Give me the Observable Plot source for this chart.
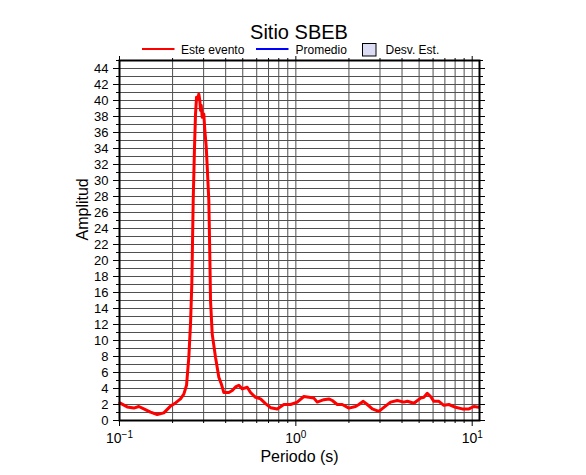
<!DOCTYPE html>
<html>
<head>
<meta charset="utf-8">
<script src="https://cdn.jsdelivr.net/npm/d3@7"></script>
<script src="https://cdn.jsdelivr.net/npm/@observablehq/plot@0.6"></script>
<style>
  body { margin: 0; background: #ffffff; }
  #wrap { width: 586px; position: relative; }
  #head { display: block; position: relative; z-index: 2; overflow: visible; }
  #chart svg { display: block; }
</style>
</head>
<body>
<div id="wrap">
  <svg id="head" width="586" height="50" font-family="Liberation Sans, Arial, Helvetica, sans-serif">
    <text id="title" x="299" y="38.5" text-anchor="middle" font-size="20"></text>
    <g id="legend"></g>
  </svg>
  <div id="chart"></div>
</div>
<script>
// ---- data ----
const titleText = "Sitio SBEB";
const xLabel = "Periodo (s)";
const yLabel = "Amplitud";
const legendLabels = ["Este evento", "Promedio", "Desv. Est."];
const legendColors = ["#ff0000", "#0000ff", "#dcdcf4"];

const periods = [0.1004, 0.1106, 0.1205, 0.1287, 0.1374, 0.1499, 0.1636, 0.1784, 0.1947, 0.2078,
  0.2218, 0.2316, 0.2399, 0.2472, 0.2528, 0.2571, 0.2618, 0.2663, 0.2698, 0.2734,
  0.2780, 0.2817, 0.2854, 0.2880, 0.2907, 0.2945, 0.3007, 0.3047, 0.3103, 0.3144,
  0.3210, 0.3250, 0.3282, 0.3356, 0.3503, 0.3658, 0.3775, 0.3905, 0.4169, 0.4358,
  0.4550, 0.4750, 0.4966, 0.5301, 0.5534, 0.5907, 0.6306, 0.6731, 0.7186, 0.7843,
  0.8549, 0.9331, 1.0184, 1.1100, 1.1850, 1.2650, 1.3224, 1.4412, 1.5390, 1.6089,
  1.7171, 1.8335, 1.9983, 2.1806, 2.2766, 2.4118, 2.5410, 2.7128, 2.9563, 3.1558,
  3.4442, 3.7597, 4.0999, 4.2857, 4.6702, 5.0969, 5.3211, 5.5628, 5.8076, 6.0638,
  6.4732, 6.9091, 7.3757, 8.0498, 8.7860, 9.5786, 10.222, 10.915];
const amps = [2.2, 1.7, 1.55, 1.75, 1.45, 1.05, 0.75, 0.95, 1.8, 2.2,
  2.7, 3.3, 4.4, 7.9, 12.1, 17.1, 27.5, 34.2, 38.3, 40.4,
  40.2, 40.8, 40.0, 38.75, 39.4, 37.9, 38.3, 36.25, 34.2, 31.7,
  27.5, 21.0, 15.0, 10.8, 7.9, 5.4, 4.6, 3.5, 3.5, 3.75,
  4.2, 4.4, 3.95, 4.15, 3.5, 2.9, 2.7, 2.1, 1.6, 1.45,
  2.0, 2.0, 2.3, 3.0, 2.9, 2.8, 2.3, 2.6, 2.7, 2.5,
  2.0, 2.0, 1.55, 1.75, 2.0, 2.4, 2.0, 1.45, 1.15, 1.65,
  2.3, 2.5, 2.3, 2.4, 2.15, 2.8, 2.9, 3.4, 3.0, 2.4,
  2.4, 1.9, 2.0, 1.65, 1.45, 1.45, 1.75, 1.65];

const yMajorTicks = [0, 2, 4, 6, 8, 10, 12, 14, 16, 18, 20, 22, 24, 26, 28, 30, 32, 34, 36, 38, 40, 42, 44];
const yMinorTicks = [1, 3, 5, 7, 9, 11, 13, 15, 17, 19, 21, 23, 25, 27, 29, 31, 33, 35, 37, 39, 41, 43, 45];
const yGridTicks = [1, 2, 3, 4, 5, 6, 7, 8, 9, 10, 11, 12, 13, 14, 15, 16, 17, 18, 19, 20, 21, 22,
  23, 24, 25, 26, 27, 28, 29, 30, 31, 32, 33, 34, 35, 36, 37, 38, 39, 40, 41, 42, 43, 44];
const xMajorTicks = [0.1, 1, 10];
const xTickBase = ["10", "10", "10"];
const xTickExp = ["\u22121", "0", "1"];
const xMinorTicks = [0.2, 0.3, 0.4, 0.5, 0.6, 0.7, 0.8, 0.9, 2, 3, 4, 5, 6, 7, 8, 9];
const xGridTicks = [0.2, 0.3, 0.4, 0.5, 0.6, 0.7, 0.8, 0.9, 1, 2, 3, 4, 5, 6, 7, 8, 9, 10];

// ---- header (title + legend) ----
const head = d3.select("#head");
head.select("#title").text(titleText);
const lg = head.select("#legend").attr("font-size", 12).attr("fill", "black");
lg.append("line").attr("x1", 142).attr("x2", 174.5).attr("y1", 49).attr("y2", 49)
  .attr("stroke", legendColors[0]).attr("stroke-width", 2);
lg.append("text").attr("x", 181).attr("y", 54).text(legendLabels[0]);
lg.append("line").attr("x1", 256).attr("x2", 288.5).attr("y1", 49).attr("y2", 49)
  .attr("stroke", legendColors[1]).attr("stroke-width", 2);
lg.append("text").attr("x", 295.5).attr("y", 54).text(legendLabels[1]);
lg.append("rect").attr("x", 362.5).attr("y", 43.5).attr("width", 13.5).attr("height", 12.5)
  .attr("fill", legendColors[2]).attr("stroke", "black").attr("stroke-width", 1);
lg.append("text").attr("x", 385.5).attr("y", 54).text(legendLabels[2]);

// ---- chart ----
const data = periods.map((p, i) => ({period: p, amp: amps[i]}));
const font = "Liberation Sans, Arial, Helvetica, sans-serif";
const gridColor = "#505050";

const chart = Plot.plot({
  width: 586,
  height: 425,
  marginTop: 10,
  marginBottom: 55,
  marginLeft: 119,
  marginRight: 107,
  style: {fontFamily: font, fontSize: "13px", background: "transparent", overflow: "visible", color: "black"},
  x: {type: "log", domain: [0.1, 11]},
  y: {domain: [0, 45]},
  marks: [
    Plot.ruleX(xGridTicks, {stroke: gridColor, strokeWidth: 1}),
    Plot.ruleY(yGridTicks, {stroke: gridColor, strokeWidth: 1}),
    Plot.line(data, {x: "period", y: "amp", stroke: legendColors[0], strokeWidth: 3, strokeLinejoin: "round"}),
    Plot.frame({stroke: "black", strokeWidth: 2}),
    Plot.axisY({ticks: yMajorTicks, tickSize: 6, tickPadding: 5, fontSize: 13, label: null}),
    Plot.axisY({ticks: yMinorTicks, tickSize: 3, tickFormat: () => "", label: null}),
    Plot.axisY({anchor: "right", ticks: yMajorTicks, tickSize: 5, tickFormat: () => "", label: null}),
    Plot.axisY({anchor: "right", ticks: yMinorTicks, tickSize: 3, tickFormat: () => "", label: null}),
    Plot.axisX({ticks: xMajorTicks, tickSize: 6, tickPadding: 7, fontSize: 14, label: null,
      tickFormat: (d) => { const i = xMajorTicks.indexOf(d); return xTickBase[i] + "|" + xTickExp[i]; }}),
    Plot.axisX({ticks: xMinorTicks, tickSize: 3, tickFormat: () => "", label: null}),
    Plot.axisX({anchor: "top", ticks: xMajorTicks, tickSize: 5, tickFormat: () => "", label: null}),
    Plot.axisX({anchor: "top", ticks: xMinorTicks, tickSize: 3, tickFormat: () => "", label: null}),
    Plot.text([xLabel], {text: d => d, frameAnchor: "bottom", lineAnchor: "middle", dy: 36, fontSize: 16, fill: "black"}),
    Plot.text([yLabel], {text: d => d, frameAnchor: "left", lineAnchor: "middle", dx: -37, rotate: -90, fontSize: 16, fill: "black"})
  ]
});

// superscript exponents on the x tick labels
d3.select(chart).selectAll('g[aria-label="x-axis tick label"] text').each(function () {
  const t = d3.select(this);
  const parts = t.text().split("|");
  if (parts.length < 2) return;
  t.text(parts[0]);
  t.append("tspan").attr("dy", "-0.5em").attr("font-size", "10px").text(parts[1]);
});

document.getElementById("chart").appendChild(chart);
</script>
</body>
</html>
